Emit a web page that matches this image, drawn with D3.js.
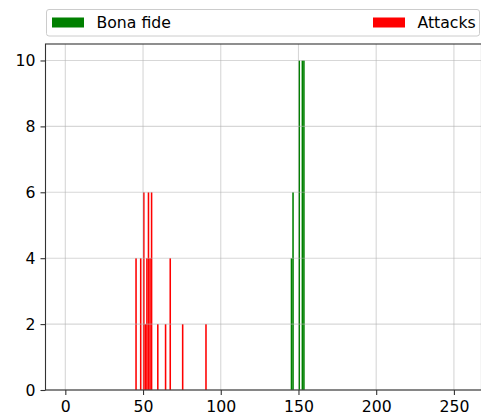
<!DOCTYPE html>
<html>
<head>
<meta charset="utf-8">
<script src="https://cdn.jsdelivr.net/npm/d3@7"></script>
<style>
  body { margin: 0; background: #fff; }
  svg { display: block; font-family: "DejaVu Sans", sans-serif; }
</style>
</head>
<body>
<div id="container"></div>
<script>
/* DATA: histogram bins (left edge) and counts */
const bonaFideBins = [145, 146, 150, 152, 153]
const bonaFideCounts = [4, 6, 10, 10, 10]
const attackBins = [45, 48, 50, 51, 52, 53, 54, 55, 59, 64, 67, 75, 90]
const attackCounts = [4, 4, 6, 2, 4, 6, 4, 6, 2, 2, 4, 2, 2]
const xTicks = [0, 50, 100, 150, 200, 250]
const yTicks = [0, 2, 4, 6, 8, 10]
const seriesNames = ["Bona fide", "Attacks"]
const seriesColors = ["#008000", "#ff0000"]
const binWidth = 1

/* CONSTANTS */
const W = 481, H = 415
const margin = {top: 44, right: -0.5, bottom: 25, left: 45.5}
const width = W - margin.left - margin.right
const height = H - margin.top - margin.bottom
const fontSize = "15.7px"

const svg = d3.select("#container")
  .append("svg")
    .attr("width", W)
    .attr("height", H)

const g = svg.append("g")
  .attr("transform", "translate(" + margin.left + "," + margin.top + ")")

// SCALES
const xScale = d3.scaleLinear()
  .domain([-12.75, 267.75])
  .range([0, width])

const yScale = d3.scaleLinear()
  .domain([0, 10.5])
  .range([height, 0])

// BARS
const series = [
  {bins: bonaFideBins, counts: bonaFideCounts, color: seriesColors[0]},
  {bins: attackBins, counts: attackCounts, color: seriesColors[1]}
]

series.forEach(s => {
  const rows = s.bins.map((b, i) => ({x: b, y: s.counts[i]}))
  g.selectAll(null)
    .data(rows)
    .join("rect")
      .attr("x", d => xScale(d.x))
      .attr("width", d => xScale(d.x + binWidth) - xScale(d.x))
      .attr("y", d => yScale(d.y))
      .attr("height", d => yScale(0) - yScale(d.y))
      .attr("fill", s.color)
})

// GRID
g.selectAll(".xgrid")
  .data(xTicks)
  .join("line")
    .attr("x1", d => xScale(d)).attr("x2", d => xScale(d))
    .attr("y1", 0).attr("y2", height)
    .attr("stroke", "#b0b0b0").attr("stroke-opacity", 0.5).attr("stroke-width", 1.1)

g.selectAll(".ygrid")
  .data(yTicks)
  .join("line")
    .attr("y1", d => yScale(d)).attr("y2", d => yScale(d))
    .attr("x1", 0).attr("x2", width)
    .attr("stroke", "#b0b0b0").attr("stroke-opacity", 0.5).attr("stroke-width", 1.1)

// AXES
const xAxis = g.append("g")
  .attr("transform", "translate(0," + height + ")")
  .call(d3.axisBottom(xScale).tickValues(xTicks).tickSize(5).tickPadding(6).tickFormat(d3.format("d")))

const yAxis = g.append("g")
  .call(d3.axisLeft(yScale).tickValues(yTicks).tickSize(5).tickPadding(5).tickFormat(d3.format("d")))

;[xAxis, yAxis].forEach(a => {
  a.select(".domain").remove()
  a.selectAll(".tick line").attr("stroke", "#333").attr("stroke-width", 1.1)
  a.selectAll(".tick text")
    .attr("fill", "#000")
    .style("font-size", fontSize)
    .style("font-family", "DejaVu Sans")
})

// SPINES
g.append("rect")
  .attr("x", 0).attr("y", 0)
  .attr("width", width).attr("height", height)
  .attr("fill", "none")
  .attr("stroke", "#333")
  .attr("stroke-width", 1.1)

// LEGEND
const legend = svg.append("g")
legend.append("rect")
  .attr("x", 46.5).attr("y", 9.5)
  .attr("width", 433).attr("height", 26.5)
  .attr("rx", 2.5)
  .attr("fill", "#fff").attr("fill-opacity", 0.8)
  .attr("stroke", "#cccccc").attr("stroke-width", 1)

const legendX = [52, 373]
seriesNames.forEach((name, i) => {
  legend.append("rect")
    .attr("x", legendX[i]).attr("y", 17.5)
    .attr("width", 32).attr("height", 10)
    .attr("fill", seriesColors[i])
  legend.append("text")
    .attr("x", legendX[i] + 44.5).attr("y", 28)
    .style("font-size", fontSize)
    .attr("fill", "#000")
    .text(name)
})
</script>
</body>
</html>
